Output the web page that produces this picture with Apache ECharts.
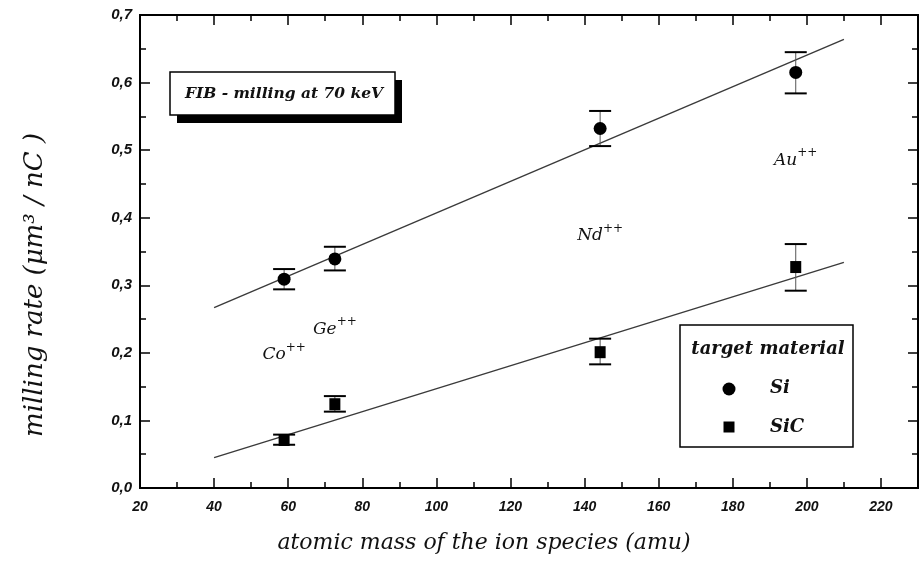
<!DOCTYPE html>
<html><head><meta charset="utf-8">
<script src="https://cdn.jsdelivr.net/npm/echarts@6/dist/echarts.min.js"></script>
<style>html,body{margin:0;padding:0;background:#fff}#c{width:921px;height:562px}</style>
</head><body><div id="c"></div>
<script>
// ---- data ----
const ionNames = ['Co', 'Ge', 'Nd', 'Au'];
const ionMass = [58.9, 72.6, 144.2, 197.0];
const siRate = [0.309, 0.339, 0.532, 0.615];
const siLow = [0.294, 0.322, 0.506, 0.584];
const siHigh = [0.324, 0.357, 0.558, 0.645];
const sicRate = [0.071, 0.124, 0.201, 0.327];
const sicLow = [0.064, 0.113, 0.183, 0.292];
const sicHigh = [0.079, 0.136, 0.221, 0.361];
const fitX = [40, 210];
const siFitY = [0.267, 0.664];
const sicFitY = [0.045, 0.334];
const ionLabelY = [0.197, 0.235, 0.373, 0.485];

const serif = '"DejaVu Serif", "Liberation Serif", serif';
const sans = '"Liberation Sans", Arial, sans-serif';

function pairs(xs, ys) { return xs.map((x, i) => [x, ys[i]]); }
function triples(xs, lo, hi) { return xs.map((x, i) => [x, lo[i], hi[i]]); }

function errRender(params, api) {
  const x = api.value(0), lo = api.value(1), hi = api.value(2);
  const pLo = api.coord([x, lo]), pHi = api.coord([x, hi]);
  const hw = 11;
  return {
    type: 'group', children: [
      { type: 'line', shape: { x1: pLo[0], y1: pLo[1], x2: pHi[0], y2: pHi[1] }, style: { stroke: '#555', lineWidth: 1 } },
      { type: 'line', shape: { x1: pLo[0] - hw, y1: pLo[1], x2: pLo[0] + hw, y2: pLo[1] }, style: { stroke: '#000', lineWidth: 2 } },
      { type: 'line', shape: { x1: pHi[0] - hw, y1: pHi[1], x2: pHi[0] + hw, y2: pHi[1] }, style: { stroke: '#000', lineWidth: 2 } }
    ]
  };
}

const chart = echarts.init(document.getElementById('c'), null, { renderer: 'canvas' });

const axisLineStyle = { color: '#000', width: 2 };
function xAx(pos, interval, len, labels) {
  return {
    type: 'value', position: pos, min: 20, max: 230, interval: interval,
    axisLine: { show: true, onZero: false, lineStyle: axisLineStyle },
    axisTick: { show: true, inside: true, length: len, lineStyle: { color: '#000', width: 1.5 } },
    axisLabel: labels ? {
      show: true, margin: 12, fontFamily: sans, fontStyle: 'italic', fontWeight: 'bold', fontSize: 14, color: '#111',
      formatter: v => (v % 20 === 0 && v <= 220) ? String(v) : ''
    } : { show: false },
    splitLine: { show: false }
  };
}
function yAx(pos, labels) {
  return {
    type: 'value', position: pos, min: 0, max: 0.7, interval: 0.1,
    axisLine: { show: true, onZero: false, lineStyle: axisLineStyle },
    axisTick: { show: true, inside: true, length: 10, lineStyle: { color: '#000', width: 1.5 } },
    minorTick: { show: true, splitNumber: 2, length: 6, lineStyle: { color: '#000', width: 1.5 } },
    axisLabel: labels ? {
      show: true, margin: 8, fontFamily: sans, fontStyle: 'italic', fontWeight: 'bold', fontSize: 15, color: '#111',
      formatter: v => v.toFixed(1).replace('.', ',')
    } : { show: false },
    splitLine: { show: false }
  };
}

const option = {
  animation: false,
  backgroundColor: '#fff',
  grid: { left: 140, right: 2, top: 15, bottom: 74, containLabel: false },
  xAxis: [xAx('bottom', 20, 10, true), xAx('bottom', 10, 6, false), xAx('top', 20, 10, false), xAx('top', 10, 6, false)],
  yAxis: [yAx('left', true), yAx('right', false)],
  series: [
    { type: 'line', xAxisIndex: 0, yAxisIndex: 0, data: pairs(fitX, siFitY), symbol: 'none', lineStyle: { color: '#3a3a3a', width: 1.4 }, z: 1 },
    { type: 'line', xAxisIndex: 0, yAxisIndex: 0, data: pairs(fitX, sicFitY), symbol: 'none', lineStyle: { color: '#3a3a3a', width: 1.4 }, z: 1 },
    { type: 'custom', xAxisIndex: 0, yAxisIndex: 0, renderItem: errRender, data: triples(ionMass, siLow, siHigh), encode: { x: 0, y: [1, 2] }, z: 2 },
    { type: 'custom', xAxisIndex: 0, yAxisIndex: 0, renderItem: errRender, data: triples(ionMass, sicLow, sicHigh), encode: { x: 0, y: [1, 2] }, z: 2 },
    { type: 'scatter', name: 'Si', xAxisIndex: 0, yAxisIndex: 0, data: pairs(ionMass, siRate), symbol: 'circle', symbolSize: 13, itemStyle: { color: '#000', opacity: 1 }, z: 3 },
    { type: 'scatter', name: 'SiC', xAxisIndex: 0, yAxisIndex: 0, data: pairs(ionMass, sicRate), symbol: 'rect', symbolSize: [11, 12], itemStyle: { color: '#000', opacity: 1 }, z: 3 },
    {
      type: 'scatter', xAxisIndex: 0, yAxisIndex: 0, symbolSize: 0, itemStyle: { color: '#000', opacity: 1 },
      data: ionMass.map((m, i) => ({ value: [m, ionLabelY[i]], name: ionNames[i] })),
      label: {
        show: true, position: 'inside', color: '#111', opacity: 1, formatter: p => '{b|' + p.name + '}{s|++}',
        rich: {
          b: { fontFamily: serif, fontStyle: 'italic', fontSize: 17, color: '#111' },
          s: { fontFamily: serif, fontSize: 12, color: '#111', padding: [0, 0, 14, 0] }
        }
      }, z: 4
    }
  ],
  graphic: [
    { type: 'rect', shape: { x: 177, y: 80, width: 225, height: 43 }, style: { fill: '#000' }, z: 10 },
    { type: 'rect', shape: { x: 170, y: 72, width: 225, height: 43 }, style: { fill: '#fff', stroke: '#000', lineWidth: 1.5 }, z: 11 },
    { type: 'text', x: 284, y: 94, style: { text: 'FIB - milling at 70 keV', textAlign: 'center', textVerticalAlign: 'middle', font: 'italic bold 15.5px ' + serif, fill: '#111' }, z: 12 },

    { type: 'rect', shape: { x: 680, y: 325, width: 173, height: 122 }, style: { fill: '#fff', stroke: '#000', lineWidth: 1.5 }, z: 10 },
    { type: 'text', x: 768, y: 349, style: { text: 'target material', textAlign: 'center', textVerticalAlign: 'middle', font: 'italic bold 18px ' + serif, fill: '#111' }, z: 12 },
    { type: 'circle', shape: { cx: 729, cy: 389, r: 6.5 }, style: { fill: '#000' }, z: 12 },
    { type: 'text', x: 770, y: 388, style: { text: 'Si', textAlign: 'left', textVerticalAlign: 'middle', font: 'italic bold 18px ' + serif, fill: '#111' }, z: 12 },
    { type: 'rect', shape: { x: 723.5, y: 421.5, width: 11, height: 11 }, style: { fill: '#000' }, z: 12 },
    { type: 'text', x: 770, y: 427, style: { text: 'SiC', textAlign: 'left', textVerticalAlign: 'middle', font: 'italic bold 18px ' + serif, fill: '#111' }, z: 12 },

    { type: 'text', x: 35, y: 285, rotation: Math.PI / 2, style: { text: 'milling rate (μm³ / nC )', textAlign: 'center', textVerticalAlign: 'middle', font: 'italic 26px ' + serif, fill: '#111' }, z: 12 },
    { type: 'text', x: 484, y: 543, style: { text: 'atomic mass of the ion species (amu)', textAlign: 'center', textVerticalAlign: 'middle', font: 'italic 22px ' + serif, fill: '#111' }, z: 12 }
  ]
};
chart.setOption(option);
</script></body></html>
